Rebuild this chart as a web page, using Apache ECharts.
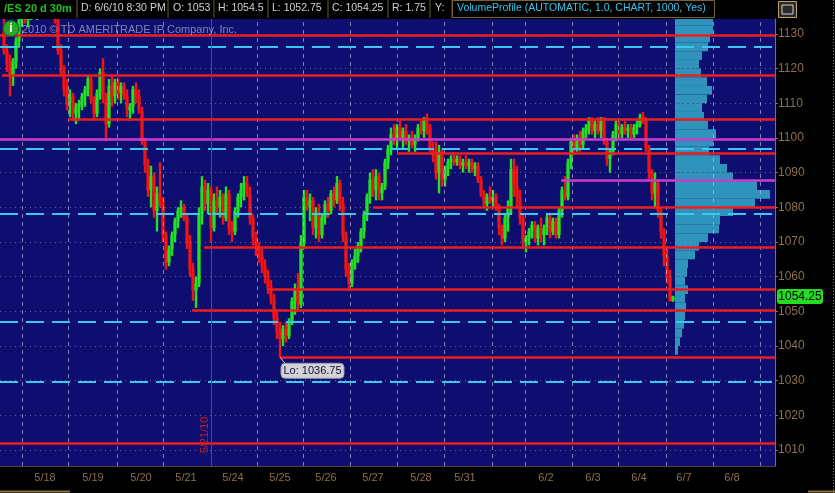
<!DOCTYPE html>
<html><head><meta charset="utf-8">
<script src="https://cdn.jsdelivr.net/npm/echarts@6/dist/echarts.min.js"></script>
<style>html,body{margin:0;padding:0;background:#000;overflow:hidden}#c{width:835px;height:493px}</style>
</head><body><div id="c"></div>
<script>
// ---------- DATA ----------
const dateLabels    = ['5/18','5/19','5/20','5/21','5/24','5/25','5/26','5/27','5/28','5/31','6/2','6/3','6/4','6/7','6/8'];
const datePositions = [45, 93, 141, 186, 233, 280, 326, 373, 421, 465, 546, 593, 639, 684, 732]; // bar index
const dayBoundaries = [22, 68, 117, 163, 257, 303, 350, 397, 444, 492, 525, 572, 618, 666, 713, 760];
const markerBar = 211;              // 5/21/10 marker line
const markerText = '5/21/10';
const priceTicks = [1010,1020,1030,1040,1050,1060,1070,1080,1090,1100,1110,1120,1130];

// 30m bars: [barIndex, open, high, low, close]
const candles = [
[4,1131,1135,1124,1125],[7,1125,1127,1119,1121],[10,1121,1124,1112,1118],[13,1118,1123,1115,1122],
[16,1122,1129,1120,1128],[19,1128,1135,1126,1134],[22,1134,1137,1132,1136],[25,1136,1138,1133,1134],
[28,1134,1137,1132,1136],[31,1136,1139,1134,1138],[34,1138,1140,1135,1136],[37,1136,1139,1134,1138],
[40,1138,1141,1136,1140],[43,1140,1142,1137,1141],[46,1141,1143,1138,1139],[49,1139,1142,1137,1140],
[52,1140,1141,1136,1137],[55,1137,1139,1133,1134],[58,1134,1136,1124,1125],[61,1125,1127,1118,1119],
[64,1119,1121,1112,1114],[67,1114,1117,1108,1110],[70,1110,1114,1106,1112],[73,1112,1113,1105,1107],
[76,1107,1110,1104,1109],[79,1109,1111,1105,1110],[82,1110,1113,1108,1112],[85,1112,1115,1109,1114],
[88,1114,1118,1112,1117],[91,1117,1118,1110,1111],[94,1111,1112,1105,1107],[97,1107,1114,1106,1113],
[100,1113,1120,1111,1119],[103,1119,1123,1110,1112],[106,1112,1113,1099,1104],[109,1104,1117,1103,1115],
[112,1115,1118,1109,1112],[115,1112,1117,1110,1116],[118,1116,1117,1111,1113],[121,1113,1116,1110,1115],
[124,1115,1116,1111,1112],[127,1112,1114,1106,1108],[130,1108,1110,1105,1109],[133,1109,1115,1107,1114],
[136,1114,1116,1110,1112],[139,1112,1114,1107,1108],[142,1108,1109,1098,1099],[145,1099,1100,1090,1092],
[148,1092,1094,1083,1085],[151,1085,1092,1080,1089],[154,1089,1090,1077,1079],[157,1079,1086,1073,1084],
[160,1084,1093,1080,1082],[163,1082,1083,1070,1072],[166,1072,1073,1062,1064],[169,1064,1069,1063,1068],
[172,1068,1073,1066,1072],[175,1072,1077,1070,1076],[178,1076,1080,1074,1079],[181,1079,1082,1077,1080],
[184,1080,1081,1076,1077],[187,1077,1078,1068,1070],[190,1070,1072,1060,1062],[193,1062,1064,1053,1056],
[196,1056,1060,1051,1058],[199,1058,1080,1057,1078],[202,1078,1089,1075,1086],[205,1086,1088,1079,1081],
[208,1081,1087,1078,1085],[211,1085,1086,1070,1074],[214,1074,1084,1073,1082],[217,1082,1086,1078,1080],
[220,1080,1085,1077,1083],[223,1083,1084,1075,1077],[226,1077,1086,1076,1084],[229,1084,1085,1072,1074],
[232,1074,1076,1070,1073],[235,1073,1080,1072,1079],[238,1079,1084,1077,1083],[241,1083,1087,1080,1085],
[244,1085,1089,1082,1087],[247,1087,1089,1083,1084],[250,1084,1086,1075,1077],[253,1077,1078,1069,1071],
[256,1071,1073,1066,1068],[259,1068,1070,1064,1066],[262,1066,1068,1061,1063],[265,1063,1065,1058,1060],
[268,1060,1062,1055,1057],[271,1057,1059,1052,1054],[274,1054,1055,1046,1048],[277,1048,1050,1042,1044],
[280,1044,1047,1036.75,1042],[283,1042,1046,1040,1045],[286,1045,1047,1041,1043],[289,1043,1048,1042,1047],
[292,1047,1054,1046,1053],[295,1053,1058,1049,1056],[298,1056,1061,1050,1052],[301,1052,1072,1051,1070],
[304,1070,1085,1068,1083],[307,1083,1085,1079,1080],[310,1080,1084,1076,1082],[313,1082,1083,1072,1074],
[316,1074,1080,1071,1078],[319,1078,1081,1070,1072],[322,1072,1078,1071,1077],[325,1077,1082,1075,1081],
[328,1081,1083,1077,1079],[331,1079,1085,1078,1084],[334,1084,1086,1080,1082],[337,1082,1089,1081,1087],
[340,1087,1088,1079,1081],[343,1081,1083,1070,1072],[346,1072,1073,1060,1062],[349,1062,1064,1056,1058],
[352,1058,1065,1057,1064],[355,1064,1068,1062,1066],[358,1066,1070,1064,1069],[361,1069,1074,1067,1073],
[364,1073,1079,1071,1078],[367,1078,1084,1076,1083],[370,1083,1090,1081,1088],[373,1088,1091,1083,1085],
[376,1085,1091,1082,1089],[379,1089,1090,1082,1084],[382,1084,1087,1082,1086],[385,1086,1094,1085,1093],
[388,1093,1098,1091,1097],[391,1097,1103,1095,1101],[394,1101,1104,1098,1100],[397,1100,1104,1097,1103],
[400,1103,1105,1099,1100],[403,1100,1103,1097,1102],[406,1102,1104,1098,1099],[409,1099,1101,1096,1100],
[412,1100,1102,1097,1098],[415,1098,1101,1096,1100],[418,1100,1104,1099,1103],[421,1103,1105,1101,1102],
[424,1102,1106,1100,1105],[427,1105,1107,1101,1103],[430,1103,1104,1096,1097],[433,1097,1099,1093,1095],
[436,1095,1099,1088,1090],[439,1090,1098,1084,1096],[442,1096,1097,1086,1088],[445,1088,1092,1086,1091],
[448,1091,1094,1089,1093],[451,1093,1095,1091,1094],[454,1094,1096,1092,1093],[457,1093,1095,1092,1094],
[460,1094,1095,1091,1092],[463,1092,1094,1090,1093],[466,1093,1095,1091,1092],[469,1092,1094,1090,1093],
[472,1093,1094,1090,1091],[475,1091,1093,1089,1092],[478,1092,1093,1087,1088],[481,1088,1089,1083,1084],
[484,1084,1085,1080,1081],[487,1081,1084,1079,1083],[490,1083,1086,1081,1082],[493,1082,1085,1080,1083],
[496,1083,1084,1079,1080],[499,1080,1081,1072,1074],[502,1074,1075,1069,1071],[505,1071,1078,1070,1077],
[508,1077,1082,1073,1080],[511,1080,1094,1078,1091],[514,1091,1094,1083,1086],[517,1086,1092,1080,1083],
[520,1083,1085,1075,1077],[523,1077,1078,1068,1070],[526,1070,1072,1067,1071],[529,1071,1074,1069,1073],
[532,1073,1076,1071,1075],[535,1075,1076,1070,1071],[538,1071,1075,1069,1074],[541,1074,1077,1070,1072],
[544,1072,1075,1069,1074],[547,1074,1078,1072,1077],[550,1077,1078,1071,1073],[553,1073,1077,1072,1076],
[556,1076,1077,1071,1072],[559,1072,1080,1071,1079],[562,1079,1086,1077,1085],[565,1085,1089,1082,1083],
[568,1083,1094,1082,1093],[571,1093,1100,1091,1099],[574,1099,1101,1095,1097],[577,1097,1101,1096,1100],
[580,1100,1102,1096,1098],[583,1098,1103,1097,1102],[586,1102,1104,1100,1103],[589,1103,1106,1101,1105],
[592,1105,1106,1101,1102],[595,1102,1105,1100,1104],[598,1104,1106,1101,1102],[601,1102,1106,1100,1105],
[604,1105,1106,1098,1099],[607,1099,1100,1092,1094],[610,1094,1097,1090,1096],[613,1096,1102,1095,1101],
[616,1101,1105,1099,1104],[619,1104,1105,1100,1101],[622,1101,1104,1100,1103],[625,1103,1105,1101,1102],
[628,1102,1104,1100,1103],[631,1103,1104,1100,1101],[634,1101,1104,1100,1103],[637,1103,1105,1101,1104],
[640,1104,1107,1103,1106],[643,1106,1107.5,1104,1105],[646,1105,1106,1096,1097],[649,1097,1098,1088,1090],
[652,1090,1091,1082,1084],[655,1084,1090,1080,1087],[658,1087,1088,1077,1079],[661,1079,1080,1071,1073],
[664,1073,1074,1063,1066],[667,1066,1068,1058,1060],[670,1060,1062,1052.75,1053],[673,1053,1054.5,1052.75,1054.25]
];

// Horizontal levels: [price, first bar]
const redLevels     = [[1129.75,0],[1118,2],[1105.5,68],[1095.5,397],[1080,373],[1068.5,204],[1056.25,267],[1050.25,192],[1036.75,280],[1012,0]];
const magentaLevels = [[1099.5,0],[1087.75,561]];
const cyanLevels    = [1126.25, 1097, 1078.25, 1047, 1029.75];

// Volume profile (2.5 pt rows): row low price and relative volume
const profileLows    = [1132.5,1130,1127.5,1125,1122.5,1120,1117.5,1115,1112.5,1110,1107.5,1105,1102.5,1100,1097.5,1095,1092.5,1090,1087.5,1085,1082.5,1080,1077.5,1075,1072.5,1070,1067.5,1065,1062.5,1060,1057.5,1055,1052.5,1050,1047.5,1045,1042.5,1040,1037.5];
const profileVolumes = [38,38,35,33,27,24,26,32,37,32,27,29,33,41,38,34,45,52,58,82,95,80,58,45,44,33,24,20,13,12,10,13,10,11,10,9,7,5,3];
const profileStep = 2.5;

const header = {
  symbol: '/ES 20 d 30m', date: 'D: 6/6/10 8:30 PM', open: 'O: 1053', high: 'H: 1054.5',
  low: 'L: 1052.75', close: 'C: 1054.25', range: 'R: 1.75', y: 'Y:',
  study: 'VolumeProfile (AUTOMATIC, 1.0, CHART, 1000, Yes)'
};
const lastPrice = 1054.25;
const lowPrice = 1036.75;
const lowBar = 280;
const copyright = '2010 © TD AMERITRADE IP Company, Inc.';

// ---------- LAYOUT / STYLE ----------
const X_MIN = 0, X_MAX = 775;
const Y_MIN = 1005.4, Y_MAX = 1134.3;
const G = {left: 0, top: 19, width: 775, height: 447};
const NAVY = '#0e0e70', TAN = '#8c6e4e', GREEN = '#22e022', RED = '#f01414';
const LRED = '#ee1e1e', MAG = '#cc3ccc', CYAN = '#3cc8ee', PROFILE = '#2f93bc';
const FONT = 'Liberation Sans, Arial, sans-serif';

const chart = echarts.init(document.getElementById('c'), null, {renderer: 'canvas'});

function clipOf(params) {
  const cs = params.coordSys;
  return {type: 'rect', shape: {x: cs.x, y: cs.y, width: cs.width, height: cs.height}};
}
function renderCandle(params, api) {
  const x = api.value(0), o = api.value(1), h = api.value(2), l = api.value(3), c = api.value(4);
  const top = api.coord([x, h]), bot = api.coord([x, l]);
  const po = api.coord([x, o]), pc = api.coord([x, c]);
  const col = c >= o ? GREEN : RED;
  return {type: 'group', clipPath: clipOf(params), children: [
    {type: 'rect', shape: {x: top[0] - 1.2, y: top[1], width: 2.4, height: Math.max(1, bot[1] - top[1])}, style: {fill: col}},
    {type: 'rect', shape: {x: top[0] - 1.6, y: Math.min(po[1], pc[1]), width: 3.2, height: Math.max(1, Math.abs(pc[1] - po[1]))}, style: {fill: col}}
  ]};
}
function renderProfile(params, api) {
  const v = api.value(0), lo = api.value(1);
  const a = api.coord([0, lo + profileStep]), b = api.coord([v, lo]);
  const cs = params.coordSys;
  const y0 = Math.max(a[1], cs.y);
  return {type: 'rect', shape: {x: a[0], y: y0, width: b[0] - a[0], height: b[1] - y0}, style: {fill: PROFILE}};
}

const levelLines = [];
const seg = (s, p, ls) => [{coord: [s, p], lineStyle: ls}, {coord: [X_MAX, p], lineStyle: ls}];
redLevels.forEach(([p, s]) => levelLines.push(seg(s, p, {color: LRED, width: 2.6, type: 'solid', opacity: 1})));
magentaLevels.forEach(([p, s]) => levelLines.push(seg(s, p, {color: MAG, width: 2.6, type: 'solid', opacity: 1})));
cyanLevels.forEach(p => levelLines.push(seg(X_MIN, p, {color: CYAN, width: 2.2, type: [18, 8], opacity: 1})));

const gridLines = [];
dayBoundaries.forEach(b => gridLines.push({xAxis: b, lineStyle: {color: 'rgba(190,190,210,0.65)', width: 1, type: [4, 4]}}));
priceTicks.forEach(p => gridLines.push({yAxis: p, lineStyle: {color: 'rgba(170,170,190,0.55)', width: 1, type: [1, 4]}}));

const option = {
  backgroundColor: '#000',
  animation: false,
  grid: [
    {left: G.left, top: G.top, width: G.width, height: G.height, show: true, backgroundColor: NAVY, borderWidth: 0},
    {left: 675, top: G.top, width: 100, height: G.height, show: false}
  ],
  xAxis: [
    {type: 'value', gridIndex: 0, min: X_MIN, max: X_MAX, splitLine: {show: false},
     axisLine: {show: true, onZero: false, lineStyle: {color: '#5a4a30', width: 1}},
     axisTick: {show: false},
     axisLabel: {customValues: datePositions, color: TAN, fontSize: 11, fontFamily: FONT, margin: 6,
       formatter: v => { const i = datePositions.indexOf(v); return i >= 0 ? dateLabels[i] : ''; }}},
    {type: 'value', gridIndex: 1, min: 0, max: 100, show: false}
  ],
  yAxis: [
    {type: 'value', gridIndex: 0, position: 'right', min: Y_MIN, max: Y_MAX, splitLine: {show: false},
     axisLine: {show: true, onZero: false, lineStyle: {color: TAN, width: 1}},
     axisTick: {show: true, customValues: priceTicks, length: 3, lineStyle: {color: TAN}},
     axisLabel: {customValues: priceTicks, color: TAN, fontSize: 12, fontFamily: FONT, margin: 3,
       formatter: v => String(v)}},
    {type: 'value', gridIndex: 1, min: Y_MIN, max: Y_MAX, show: false}
  ],
  series: [
    {type: 'line', xAxisIndex: 0, yAxisIndex: 0, z: 1, silent: true, symbol: 'none', lineStyle: {opacity: 0},
     data: [[X_MIN, Y_MIN]],
     markLine: {silent: true, symbol: ['none', 'none'], label: {show: false}, animation: false, data: gridLines}},
    {type: 'custom', xAxisIndex: 1, yAxisIndex: 1, z: 2, silent: true,
     data: profileLows.map((p, i) => [profileVolumes[i], p]), encode: {x: 0, y: 1}, renderItem: renderProfile},
    {type: 'line', xAxisIndex: 0, yAxisIndex: 0, z: 3, silent: true, symbol: 'none', lineStyle: {opacity: 0},
     data: [[X_MIN, Y_MIN]],
     markLine: {silent: true, symbol: ['none', 'none'], label: {show: false}, animation: false,
       lineStyle: {width: 2.6},
       data: levelLines.concat([{xAxis: markerBar, lineStyle: {color: '#d01c1c', width: 1, type: 'solid'}}])}},
    {type: 'custom', xAxisIndex: 0, yAxisIndex: 0, z: 4, silent: true,
     data: candles, encode: {x: 0, y: [1, 2, 3, 4]}, renderItem: renderCandle}
  ]
};
chart.setOption(option);

// ---------- overlay graphics ----------
const lowPt = chart.convertToPixel({gridIndex: 0}, [lowBar, lowPrice]);
const lastY = chart.convertToPixel({gridIndex: 0}, [X_MAX, lastPrice])[1];
const markerPt = chart.convertToPixel({gridIndex: 0}, [markerBar, 1020]);

const hdrText = (x, t, color, bold) => ({type: 'text', left: x, top: 3, z: 100,
  style: {text: t, fill: color, font: (bold ? 'bold 11px ' : '10.5px ') + FONT}});
const sep = x => ({type: 'line', z: 100, shape: {x1: x, y1: 0, x2: x, y2: 18}, style: {stroke: '#6b5834', lineWidth: 1}});

const graphics = [
  {type: 'rect', z: 99, shape: {x: 0, y: 0, width: 835, height: 18}, style: {fill: '#000'}},
  hdrText(4, header.symbol, '#22c022', true), sep(77),
  hdrText(81, header.date, '#d0d0d0'), sep(168),
  hdrText(173, header.open, '#d0d0d0'), sep(214),
  hdrText(218, header.high, '#d0d0d0'), sep(268),
  hdrText(272, header.low, '#d0d0d0'), sep(328),
  hdrText(332, header.close, '#d0d0d0'), sep(388),
  hdrText(392, header.range, '#d0d0d0'), sep(430),
  hdrText(435, header.y, '#d0d0d0'), sep(452),
  hdrText(457, header.study, '#38c4e8'),
  {type: 'rect', z: 100, shape: {x: 452.5, y: 0.5, width: 262, height: 17}, style: {fill: 'none', stroke: '#7a6236', lineWidth: 1}},
  // small toolbar icon
  {type: 'rect', z: 100, shape: {x: 778.5, y: 1.5, width: 18, height: 16}, style: {fill: '#2a2a2a', stroke: '#c0a060', lineWidth: 1}},
  {type: 'rect', z: 101, shape: {x: 782, y: 5, width: 11, height: 9}, style: {fill: 'none', stroke: '#cfcfcf', lineWidth: 1}},
  // dotted right border
  {type: 'line', z: 100, shape: {x1: 833.5, y1: 0, x2: 833.5, y2: 493}, style: {stroke: '#777', lineWidth: 1, lineDash: [1, 2]}},
  // scrollbar hints
  {type: 'line', z: 100, shape: {x1: 0, y1: 491.5, x2: 70, y2: 491.5}, style: {stroke: '#8a7040', lineWidth: 2}},
  {type: 'line', z: 100, shape: {x1: 808, y1: 491.5, x2: 835, y2: 491.5}, style: {stroke: '#8a7040', lineWidth: 2}},
  // copyright watermark with info icon
  {type: 'text', z: 50, left: 22, top: 24, style: {text: copyright, fill: 'rgba(205,205,225,0.6)', font: '11px ' + FONT}},
  {type: 'circle', z: 51, shape: {cx: 11, cy: 28.5, r: 8}, style: {fill: '#2aa82a', stroke: '#0c5a0c', lineWidth: 1}},
  {type: 'text', z: 52, x: 11, y: 29, style: {text: 'i', fill: '#fff', font: 'bold 12px ' + FONT, align: 'center', verticalAlign: 'middle'}},
  // 5/21/10 marker text (vertical)
  {type: 'text', z: 50, x: markerPt[0] - 6, y: 435, rotation: Math.PI / 2,
   style: {text: markerText, fill: '#d01c1c', font: '11px ' + FONT, align: 'center', verticalAlign: 'middle'}},
  // Lo bubble
  {type: 'line', z: 60, shape: {x1: lowPt[0], y1: lowPt[1], x2: lowPt[0] + 6, y2: lowPt[1] + 7}, style: {stroke: '#c8c8d0', lineWidth: 1}},
  {type: 'rect', z: 60, shape: {x: lowPt[0] + 1, y: lowPt[1] + 6, width: 63, height: 15, r: 4}, style: {fill: '#d2d2d8', stroke: '#9a9aa8', lineWidth: 1}},
  {type: 'text', z: 61, x: lowPt[0] + 32.5, y: lowPt[1] + 14, style: {text: 'Lo: ' + lowPrice, fill: '#101030', font: '11px ' + FONT, align: 'center', verticalAlign: 'middle'}},
  // last price box
  {type: 'rect', z: 60, shape: {x: 777, y: lastY - 7.5, width: 46, height: 15, r: 3}, style: {fill: '#22dd22'}},
  {type: 'text', z: 61, x: 800, y: lastY, style: {text: String(lastPrice), fill: '#000', font: '12px ' + FONT, align: 'center', verticalAlign: 'middle'}}
];
chart.setOption({graphic: graphics});
</script>
</body></html>
